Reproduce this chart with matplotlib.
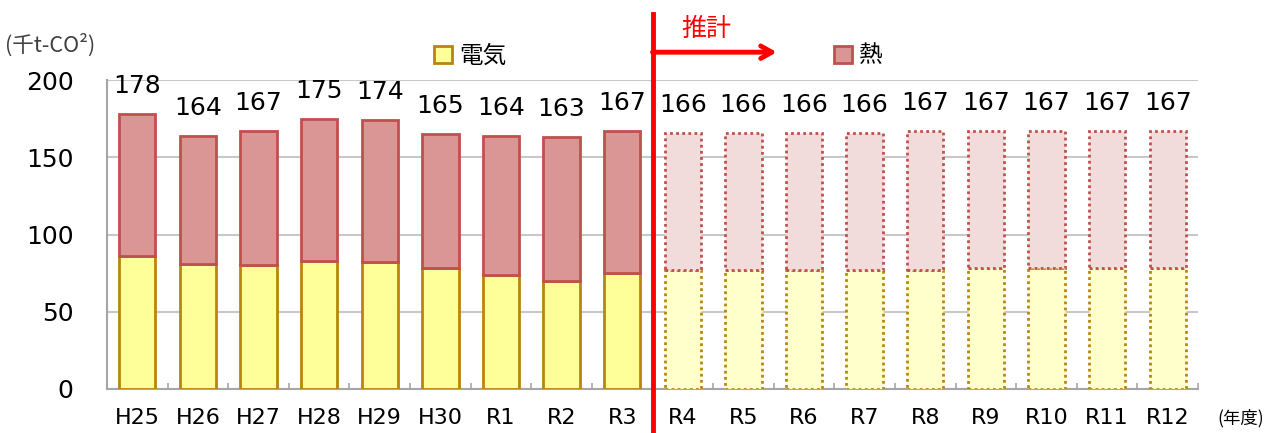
import numpy as np
import matplotlib.pyplot as plt
from matplotlib.patches import Patch

plt.rcParams['font.family'] = ['DejaVu Sans', 'Noto Sans CJK JP']

years = ["H25", "H26", "H27", "H28", "H29", "H30", "R1", "R2", "R3",
         "R4", "R5", "R6", "R7", "R8", "R9", "R10", "R11", "R12"]
totals = [178, 164, 167, 175, 174, 165, 164, 163, 167,
          166, 166, 166, 166, 167, 167, 167, 167, 167]
electricity = [86, 81, 80, 83, 82, 78, 74, 70, 75,
               77, 77, 77, 77, 77, 78, 78, 78, 78]
heat = [t - e for t, e in zip(totals, electricity)]
n_actual = 9  # H25..R3 are actuals, the rest are estimates

ELEC_FACE, ELEC_EDGE = "#FFFF99", "#B8860B"
HEAT_FACE, HEAT_EDGE = "#D99694", "#C0504D"
ELEC_FACE_EST, HEAT_FACE_EST = "#FFFFCC", "#F2DCDB"

fig = plt.figure(figsize=(12.67, 4.33), dpi=100)
ax = fig.add_axes([107 / 1267, 44 / 433, 1091 / 1267, 309 / 433])

x = np.arange(len(years))
w = 0.6
for i in x:
    est = i >= n_actual
    ls = (0, (1, 1.2)) if est else "-"
    ax.bar(i, electricity[i], w, color=ELEC_FACE_EST if est else ELEC_FACE,
           edgecolor=ELEC_EDGE, linewidth=2, linestyle=ls, zorder=3)
    ax.bar(i, heat[i], w, bottom=electricity[i],
           color=HEAT_FACE_EST if est else HEAT_FACE,
           edgecolor=HEAT_EDGE, linewidth=2, linestyle=ls, zorder=3)
    ax.annotate(str(totals[i]), (i, totals[i]), xytext=(0, 20),
                textcoords="offset points", ha="center", va="center",
                fontsize=18, color="black", zorder=5)

ax.set_xlim(-0.5, len(years) - 0.5)
ax.set_ylim(0, 200)
ax.set_yticks([0, 50, 100, 150, 200])
ax.set_xticks(x)
ax.set_xticklabels(years)
ax.set_xticks(np.arange(-0.5, len(years), 1), minor=True)
ax.tick_params(axis="y", length=0, pad=24, labelsize=18)
ax.tick_params(axis="x", which="major", length=0, pad=14, labelsize=16)
ax.tick_params(axis="x", which="minor", direction="in", length=4.5,
               color="#A6A6A6", width=1.2)
ax.grid(axis="y", color="#C8C8C8", linewidth=1.5, zorder=0)
for side in ("top", "right"):
    ax.spines[side].set_visible(False)
for side in ("left", "bottom"):
    ax.spines[side].set_color("#A6A6A6")
    ax.spines[side].set_linewidth(1.5)

# boundary between actuals and estimates
bx = n_actual - 0.5
ax.plot([bx, bx], [-28.5, 243], color="#FF0000", lw=3.5, clip_on=False, zorder=6)
ax.annotate("", xy=(10.55, 218), xytext=(bx, 218),
            arrowprops=dict(arrowstyle="->,head_length=0.8,head_width=0.45",
                            color="#FF0000", lw=3.5, shrinkA=0, shrinkB=0,
                            capstyle="round", joinstyle="round"),
            annotation_clip=False, zorder=6)
ax.text(9.38, 233, "推計", color="#FF0000", fontsize=18, ha="center",
        va="center", family=["Noto Sans CJK JP"], clip_on=False)

# legend entries placed separately
leg_font = {"family": "Noto Sans CJK JP", "size": 17}
fig.legend(handles=[Patch(facecolor=ELEC_FACE, edgecolor=ELEC_EDGE, lw=2)],
           labels=["電気"], loc="center left",
           bbox_to_anchor=(413 / 1267, 1 - 56 / 433), frameon=False,
           prop=leg_font, handlelength=0.75, handleheight=0.75, handletextpad=0.3)
fig.legend(handles=[Patch(facecolor=HEAT_FACE, edgecolor=HEAT_EDGE, lw=2)],
           labels=["熱"], loc="center left",
           bbox_to_anchor=(813 / 1267, 1 - 56 / 433), frameon=False,
           prop=leg_font, handlelength=0.75, handleheight=0.75, handletextpad=0.3)

fig.text(5 / 1267, 1 - 45 / 433, "(千t-CO²)", fontsize=15.5, color="#404040",
         va="center", family=["Noto Sans CJK JP", "DejaVu Sans"])
fig.text(1217 / 1267, 1 - 418 / 433, "(年度)", fontsize=12.5, color="black",
         va="center", family=["Noto Sans CJK JP"])

fig.savefig("out.png", dpi=100)
